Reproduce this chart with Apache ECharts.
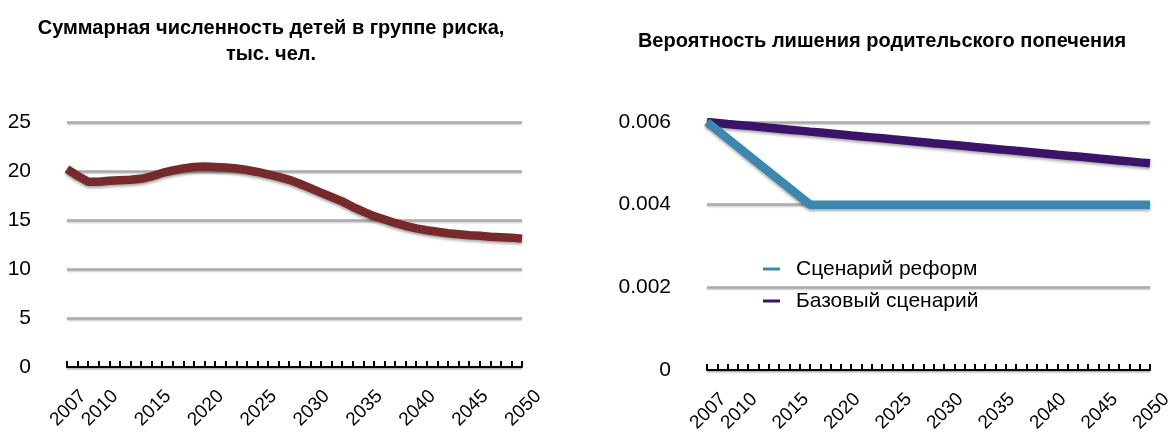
<!DOCTYPE html>
<html>
<head>
<meta charset="utf-8">
<script src="https://cdn.jsdelivr.net/npm/echarts@6/dist/echarts.min.js"></script>
<style>
html,body{margin:0;padding:0;background:#fff;}
#chart{width:1170px;height:434px;}
</style>
</head>
<body>
<div id="chart"></div>
<script>
var years = ['2007','2008','2009','2010','2011','2012','2013','2014','2015','2016','2017','2018','2019','2020','2021','2022','2023','2024','2025','2026','2027','2028','2029','2030','2031','2032','2033','2034','2035','2036','2037','2038','2039','2040','2041','2042','2043','2044','2045','2046','2047','2048','2049','2050'];
var xTickLabels = ['2007','2015','2020','2025','2030','2035','2040','2050'];
var xTickLabelsInner = ['2010','2045'];
var childrenAtRisk = [20.2,19.5,18.9,18.9,19.0,19.05,19.1,19.2,19.45,19.8,20.05,20.25,20.4,20.45,20.4,20.35,20.25,20.1,19.9,19.65,19.4,19.1,18.7,18.25,17.8,17.35,16.9,16.35,15.85,15.4,15.05,14.7,14.4,14.15,13.95,13.8,13.65,13.55,13.45,13.4,13.3,13.25,13.2,13.1];
var reformScenario = [0.006,0.0058,0.0056,0.0054,0.0052,0.005,0.0048,0.0046,0.0044,0.0042,0.004,0.004,0.004,0.004,0.004,0.004,0.004,0.004,0.004,0.004,0.004,0.004,0.004,0.004,0.004,0.004,0.004,0.004,0.004,0.004,0.004,0.004,0.004,0.004,0.004,0.004,0.004,0.004,0.004,0.004,0.004,0.004,0.004,0.004];
var baseScenario = [0.006,0.005977,0.005953,0.00593,0.005907,0.005884,0.00586,0.005837,0.005814,0.005791,0.005767,0.005744,0.005721,0.005698,0.005674,0.005651,0.005628,0.005605,0.005581,0.005558,0.005535,0.005512,0.005488,0.005465,0.005442,0.005419,0.005395,0.005372,0.005349,0.005326,0.005302,0.005279,0.005256,0.005233,0.005209,0.005186,0.005163,0.00514,0.005116,0.005093,0.00507,0.005047,0.005023,0.005];
var leftTitle = 'Суммарная численность детей в группе риска,\nтыс. чел.';
var rightTitle = 'Вероятность лишения родительского попечения';
var reformName = 'Сценарий реформ';
var baseName = 'Базовый сценарий';

var FONT = '"Liberation Sans", Arial, Helvetica, sans-serif';
var chart = echarts.init(document.getElementById('chart'), null, {renderer: 'canvas'});

function xAxisCfg(gridIndex, labels, main) {
  return {
    type: 'category', gridIndex: gridIndex, data: years, boundaryGap: false, position: 'bottom', offset: 0,
    axisLine: {show: main, lineStyle: {color: '#000', width: 2}},
    axisTick: {show: main, inside: true, length: 6, interval: 0, lineStyle: {color: '#000', width: 2}},
    axisLabel: {
      show: true, rotate: 45, margin: 10, fontSize: 19, color: '#000', fontFamily: FONT,
      verticalAlign: 'top', lineHeight: 46, hideOverlap: false,
      showMinLabel: true, showMaxLabel: true,
      interval: function (idx, val) { return labels.indexOf(val) >= 0; }
    },
    splitLine: {show: false}
  };
}
function yAxisCfg(gridIndex, max, interval, fmt) {
  return {
    type: 'value', gridIndex: gridIndex, min: 0, max: max, interval: interval,
    axisLine: {show: false}, axisTick: {show: false},
    axisLabel: {margin: 36, fontSize: 21, color: '#000', fontFamily: FONT, formatter: fmt},
    splitLine: {show: true, lineStyle: {color: '#ababab', width: 2.5, shadowColor: 'rgba(0,0,0,0.25)', shadowBlur: 2, shadowOffsetY: 1}}
  };
}

var option = {
  animation: false,
  backgroundColor: '#fff',
  textStyle: {fontFamily: FONT},
  title: [
    {text: leftTitle, left: 266, top: 10, textAlign: 'center',
     textStyle: {fontSize: 20, fontWeight: 'bold', color: '#000', fontFamily: FONT, lineHeight: 26}},
    {text: rightTitle, left: 877, top: 23, textAlign: 'center',
     textStyle: {fontSize: 20, fontWeight: 'bold', color: '#000', fontFamily: FONT, lineHeight: 26}}
  ],
  legend: {
    data: [reformName, baseName],
    orient: 'vertical', left: 758, top: 252,
    icon: 'rect', itemWidth: 17, itemHeight: 3, itemGap: 8,
    textStyle: {fontSize: 21, color: '#000', fontFamily: FONT, lineHeight: 24, padding: [0, 0, 0, 11]}
  },
  grid: [
    {left: 67, top: 122, width: 455, height: 245, outerBoundsMode: 'none', containLabel: false},
    {left: 707, top: 122, width: 443, height: 248, outerBoundsMode: 'none', containLabel: false}
  ],
  xAxis: [
    xAxisCfg(0, xTickLabels, true),
    xAxisCfg(1, xTickLabels, true),
    xAxisCfg(0, xTickLabelsInner, false),
    xAxisCfg(1, xTickLabelsInner, false)
  ],
  yAxis: [
    yAxisCfg(0, 25, 5, function (v) { return String(v); }),
    yAxisCfg(1, 0.006, 0.002, function (v) { return v === 0 ? '0' : v.toFixed(3); })
  ],
  series: [
    {type: 'line', name: 'Численность', xAxisIndex: 0, yAxisIndex: 0, data: childrenAtRisk,
     showSymbol: false, symbol: 'none',
     lineStyle: {color: '#772a2b', width: 8.5, shadowColor: 'rgba(0,0,0,0.35)', shadowBlur: 3, shadowOffsetY: 2}},
    {type: 'line', name: baseName, xAxisIndex: 1, yAxisIndex: 1, data: baseScenario,
     showSymbol: false, symbol: 'none', color: '#3b1469', z: 2,
     lineStyle: {color: '#3b1469', width: 8.5, shadowColor: 'rgba(0,0,0,0.35)', shadowBlur: 3, shadowOffsetY: 2}},
    {type: 'line', name: reformName, xAxisIndex: 1, yAxisIndex: 1, data: reformScenario,
     showSymbol: false, symbol: 'none', color: '#3b87ae', z: 3,
     lineStyle: {color: '#3b87ae', width: 8.5, shadowColor: 'rgba(0,0,0,0.35)', shadowBlur: 3, shadowOffsetY: 2}}
  ]
};
chart.setOption(option);
</script>
</body>
</html>
